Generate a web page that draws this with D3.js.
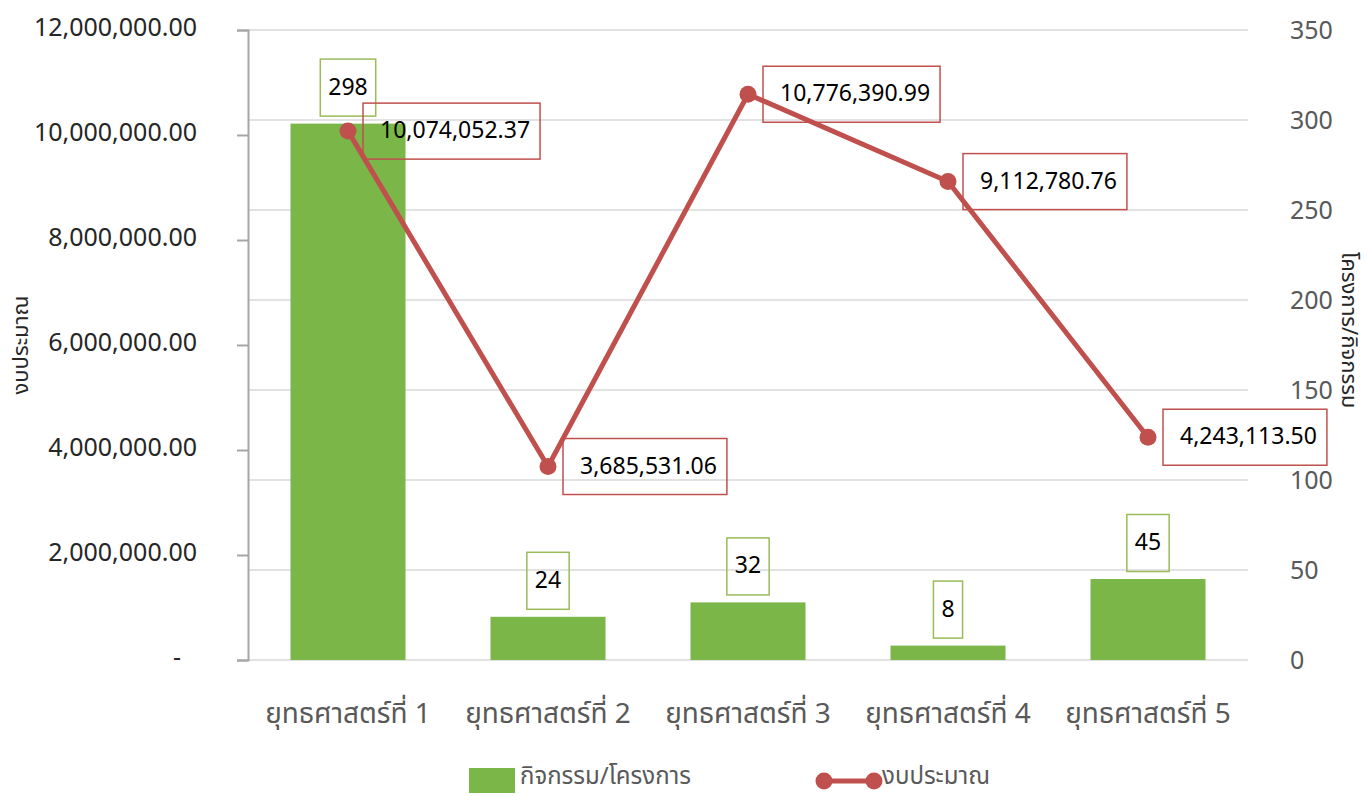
<!DOCTYPE html>
<html>
<head>
<meta charset="utf-8">
<script src="https://cdnjs.cloudflare.com/ajax/libs/d3/7.8.5/d3.min.js"></script>
<style>
  body { margin: 0; background: #fff; }
  svg text { font-family: "Noto Sans Thai", "Noto Sans", "DejaVu Sans", sans-serif; }
</style>
</head>
<body>
<div id="chart"></div>
<script>
// ข้อมูล
const categories = ["ยุทธศาสตร์ที่ 1", "ยุทธศาสตร์ที่ 2", "ยุทธศาสตร์ที่ 3", "ยุทธศาสตร์ที่ 4", "ยุทธศาสตร์ที่ 5"];
const projects = [298, 24, 32, 8, 45];
const budget = [10074052.37, 3685531.06, 10776390.99, 9112780.76, 4243113.50];
const leftTicks = [0, 2000000, 4000000, 6000000, 8000000, 10000000, 12000000];
const rightTicks = [0, 50, 100, 150, 200, 250, 300, 350];

const width = 1367, height = 797;
const margin = { top: 30, right: 119, bottom: 137, left: 248 };
const w = width - margin.left - margin.right;
const h = height - margin.top - margin.bottom;

const svg = d3.select("#chart").append("svg")
  .attr("width", width).attr("height", height);
const g = svg.append("g").attr("transform", `translate(${margin.left},${margin.top})`);

const x = d3.scaleBand().domain(categories).range([0, w]).paddingInner(0.425).paddingOuter(0.2125);
const yL = d3.scaleLinear().domain([0, 12000000]).range([h, 0]);
const yR = d3.scaleLinear().domain([0, 350]).range([h, 0]);

const green = "#7ab648", red = "#c0504d";

// เส้นกริด (แกนขวา)
g.append("g").selectAll("line").data(rightTicks).enter().append("line")
  .attr("x1", 0).attr("x2", w)
  .attr("y1", d => yR(d)).attr("y2", d => yR(d))
  .attr("stroke", "#d9d9d9").attr("stroke-width", 1.5);

// แกนซ้าย
const fmt = d3.format(",.2f");
const axL = g.append("g").call(d3.axisLeft(yL).tickValues(leftTicks).tickSize(11)
  .tickFormat(d => d === 0 ? "-" : fmt(d)));
axL.select(".domain").attr("stroke", "#a6a6a6").attr("stroke-width", 2);
axL.selectAll(".tick line").attr("stroke", "#a6a6a6").attr("stroke-width", 2);
axL.selectAll(".tick text").attr("font-size", 25).attr("fill", "#262626").attr("x", -51)
  .attr("dy", "0.22em");
axL.selectAll(".tick text").filter(d => d === 0).attr("x", -67);

// แกนขวา
const axR = g.append("g").attr("transform", `translate(${w},0)`)
  .call(d3.axisRight(yR).tickValues(rightTicks).tickSize(0));
axR.select(".domain").remove();
axR.selectAll(".tick text").attr("font-size", 25).attr("fill", "#595959").attr("x", 42);

// แกน x
g.append("g").selectAll("text").data(categories).enter().append("text")
  .attr("x", d => x(d) + x.bandwidth() / 2).attr("y", h + 63)
  .attr("text-anchor", "middle").attr("font-size", 28).attr("fill", "#595959")
  .text(d => d);

// ชื่อแกน
svg.append("text").attr("transform", `translate(28,345) rotate(-90)`)
  .attr("text-anchor", "middle").attr("font-size", 22).attr("fill", "#262626").text("งบประมาณ");
svg.append("text").attr("transform", `translate(1342,330) rotate(90)`)
  .attr("text-anchor", "middle").attr("font-size", 22).attr("fill", "#262626").text("โครงการ/กิจกรรม");

// แท่ง
g.append("g").selectAll("rect").data(projects).enter().append("rect")
  .attr("x", (d, i) => x(categories[i]))
  .attr("y", d => yR(d))
  .attr("width", x.bandwidth())
  .attr("height", d => h - yR(d))
  .attr("fill", green);

// เส้น
const cx = i => x(categories[i]) + x.bandwidth() / 2;
g.append("path").datum(budget)
  .attr("d", d3.line().x((d, i) => cx(i)).y(d => yL(d)))
  .attr("fill", "none").attr("stroke", red).attr("stroke-width", 5).attr("stroke-linejoin", "round");
g.append("g").selectAll("circle").data(budget).enter().append("circle")
  .attr("cx", (d, i) => cx(i)).attr("cy", d => yL(d)).attr("r", 8.5).attr("fill", red);

// ป้ายข้อมูลแท่ง
const barLab = g.append("g").selectAll("g").data(projects).enter().append("g");
barLab.append("text")
  .attr("x", (d, i) => cx(i)).attr("y", d => yR(d) - 36)
  .attr("text-anchor", "middle").attr("dominant-baseline", "central")
  .attr("font-size", 23).attr("fill", "#000").text(d => d);
barLab.each(function() {
  const t = d3.select(this).select("text");
  const b = t.node().getBBox();
  d3.select(this).insert("rect", "text")
    .attr("x", b.x - 8).attr("y", b.y + b.height / 2 - 28.5)
    .attr("width", b.width + 16).attr("height", 57)
    .attr("fill", "none").attr("stroke", "#9bbb59").attr("stroke-width", 1.5);
});

// ป้ายข้อมูลเส้น
const lineLab = g.append("g").selectAll("g").data(budget).enter().append("g");
lineLab.append("text")
  .attr("x", (d, i) => cx(i) + 32).attr("y", d => yL(d))
  .attr("dominant-baseline", "central")
  .attr("font-size", 23).attr("fill", "#000").text(d => fmt(d));
lineLab.each(function() {
  const t = d3.select(this).select("text");
  const b = t.node().getBBox();
  d3.select(this).insert("rect", "text")
    .attr("x", b.x - 17).attr("y", b.y + b.height / 2 - 28)
    .attr("width", b.width + 27).attr("height", 56)
    .attr("fill", "none").attr("stroke", red).attr("stroke-width", 1.5);
});

// คำอธิบาย
const lg = svg.append("g").attr("transform", "translate(0,777)");
lg.append("rect").attr("x", 469).attr("y", -9).attr("width", 46).attr("height", 25).attr("fill", green);
lg.append("text").attr("x", 520).attr("y", 0).attr("dominant-baseline", "central")
  .attr("font-size", 24).attr("fill", "#595959").text("กิจกรรม/โครงการ");
lg.append("line").attr("x1", 824).attr("x2", 874).attr("y1", 4).attr("y2", 4)
  .attr("stroke", red).attr("stroke-width", 5);
lg.selectAll("circle.lg").data([824, 874]).enter().append("circle")
  .attr("cx", d => d).attr("cy", 4).attr("r", 8.5).attr("fill", red);
lg.append("text").attr("x", 882).attr("y", 0).attr("dominant-baseline", "central")
  .attr("font-size", 24).attr("fill", "#595959").text("งบประมาณ");
</script>
</body>
</html>
